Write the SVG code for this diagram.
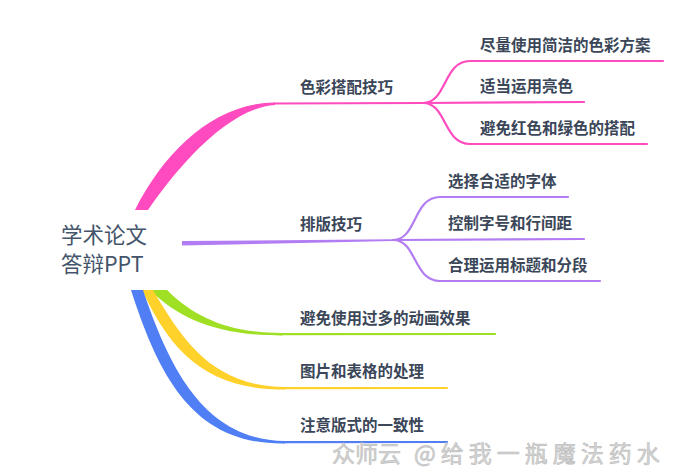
<svg xmlns="http://www.w3.org/2000/svg" width="692" height="473" viewBox="0 0 692 473">
<style>
.lbl{font-family:"Noto Sans CJK SC","Noto Sans",sans-serif;font-size:15.5px;font-weight:bold;fill:#3b4759}
.root{font-family:"Noto Sans CJK SC","Noto Sans",sans-serif;font-size:21.5px;fill:#44546a}
.ln{fill:none;stroke-width:2.2;stroke-linecap:round}
.wm{font-family:"Noto Sans CJK SC",sans-serif;font-size:23px;fill:#d4d4d4;stroke:#bdbdbd;stroke-width:0.6}
</style>
<rect width="692" height="473" fill="#ffffff"/>
<g id="connectors">
  <!-- pink -->
  <path d="M135,210 C165,150 215,103 275,102.5 L275,105 C225,108 172,175 148,210 Z" fill="#ff4bbf"/>
  <path class="ln" stroke="#ff4bbf" d="M274,103.5 L423,103"/>
  <path class="ln" stroke="#ff4bbf" d="M423,103 C447,103 443,61 470,61 L663,61"/>
  <path class="ln" stroke="#ff4bbf" d="M423,103 L584,102"/>
  <path class="ln" stroke="#ff4bbf" d="M423,103 C447,103 443,144 470,144 L647,144"/>
  <!-- purple -->
  <path d="M182,241 L393,239.3 L393,241 L182,245.5 Z" fill="#b27cf2"/>
  <path class="ln" stroke="#b27cf2" d="M393,240 C417,240 413,197 440,197 L568,197"/>
  <path class="ln" stroke="#b27cf2" d="M393,240 L584,239"/>
  <path class="ln" stroke="#b27cf2" d="M393,240 C417,240 413,281 440,281 L600,281"/>
  <!-- green -->
  <path d="M150,290 L167,290 C195,318 230,333 282,333 L282,335.5 C220,335.5 180,320 150,290 Z" fill="#a0e024"/>
  <path class="ln" stroke="#a0e024" d="M280,334.2 L495,334"/>
  <!-- yellow -->
  <path d="M142,290 L153,290 C185,345 215,386 285,387 L285,389.5 C205,390 170,350 142,290 Z" fill="#ffd12b"/>
  <path class="ln" stroke="#ffd12b" d="M283,388.2 L447,388"/>
  <!-- blue -->
  <path d="M131,290 L143,290 C170,370 205,440 285,441 L285,443.5 C195,445 160,380 131,290 Z" fill="#4f7ef5"/>
  <path class="ln" stroke="#4f7ef5" d="M283,442.2 L447,442"/>
</g>
<g id="root"><text class="root" x="61" y="243">学术论文</text><text class="root" x="61" y="272">答辩PPT</text></g>
<g id="n1"><text class="lbl" x="300" y="93">色彩搭配技巧</text></g>
<g id="n1a"><text class="lbl" x="480" y="51">尽量使用简洁的色彩方案</text></g>
<g id="n1b"><text class="lbl" x="480" y="92">适当运用亮色</text></g>
<g id="n1c"><text class="lbl" x="480" y="134">避免红色和绿色的搭配</text></g>
<g id="n2"><text class="lbl" x="300" y="230">排版技巧</text></g>
<g id="n2a"><text class="lbl" x="448" y="187">选择合适的字体</text></g>
<g id="n2b"><text class="lbl" x="448" y="229">控制字号和行间距</text></g>
<g id="n2c"><text class="lbl" x="448" y="271">合理运用标题和分段</text></g>
<g id="n3"><text class="lbl" x="300" y="324">避免使用过多的动画效果</text></g>
<g id="n4"><text class="lbl" x="300" y="377">图片和表格的处理</text></g>
<g id="n5"><text class="lbl" x="300" y="431">注意版式的一致性</text></g>
<g id="watermark"><text class="wm" x="332" y="462">众师云</text><text class="wm" x="414" y="462" letter-spacing="5">@给我一瓶魔法药水</text></g>
</svg>
